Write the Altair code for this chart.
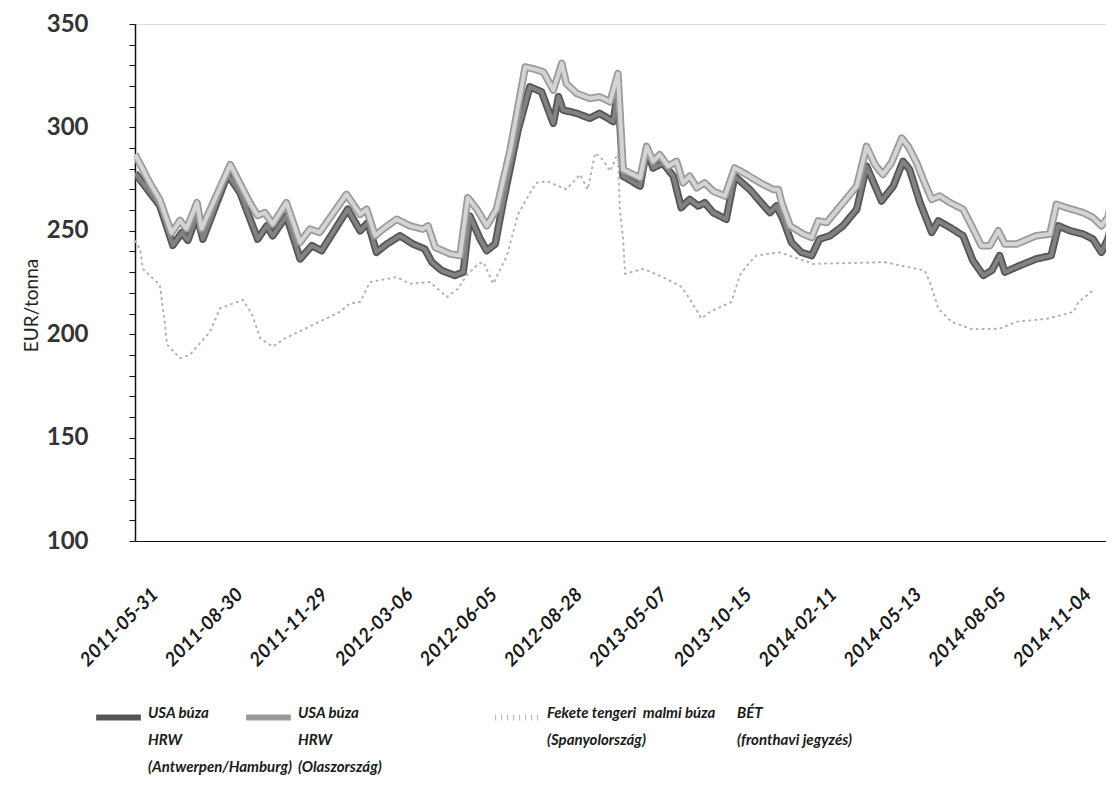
import altair as alt
import pandas as pd

# ---- series names (legend text, lines separated by "|") ----
SERIES = [
    "USA búza|HRW|(Antwerpen/Hamburg)",
    "USA búza|HRW|(Olaszország)",
    "Fekete tengeri \u00a0malmi búza|(Spanyolország)",
    "BÉT|(fronthavi jegyzés)",
]
COLORS = ["#555555", "#9a9a9a", "#b0b0b0", "#ffffff"]
DASHES = [[1, 0], [1, 0], [1, 5], [1, 0]]

# ---- x axis tick labels (category index -> date) ----
TICK_POS = [3, 16, 29, 42, 55, 68, 81, 94, 107, 120, 133, 146]
TICK_LABELS = ["2011-05-31", "2011-08-30", "2011-11-29", "2012-03-06", "2012-06-05",
               "2012-08-28", "2013-05-07", "2013-10-15", "2014-02-11", "2014-05-13",
               "2014-08-05", "2014-11-04"]

# ---- USA búza HRW (Antwerpen/Hamburg) ----
ant_x = [0, 2.3, 3.8, 5.8, 7.2, 8.1, 9.5, 10.4, 14.2, 16.1,
         18.8, 20.2, 21.1, 23.2, 25.3, 27.1, 28.6, 32.6, 34.5, 35.7,
         37.0, 38.6, 40.6, 42.6, 44.4, 45.5, 47.0, 49.0, 50.3, 51.3,
         52.9, 53.9, 55.2, 56.4, 58.7, 60.5, 62.3, 64.1, 64.9, 65.6,
         67.7, 69.7, 71.2, 73.3, 74.0, 74.8, 77.4, 78.4, 79.4, 80.9,
         82.5, 83.7, 85.0, 86.3, 87.3, 88.6, 90.6, 91.9, 94.2, 97.3,
         98.3, 99.3, 100.6, 102.1, 103.7, 104.9, 106.5, 108.5, 110.6, 112.1,
         114.4, 116.2, 117.7, 118.7, 120.3, 122.1, 123.1, 124.9, 126.9, 128.4,
         130.0, 131.3, 132.5, 133.3, 135.6, 138.1, 140.4, 141.5, 143.3, 145.3,
         146.8, 148.1, 149.1, 150]
ant_y = [278, 268.4, 262.2, 243, 249.2, 245.4, 257.4, 246, 277.2, 268.4,
         246, 252.4, 247.6, 257.2, 236.4, 242.8, 240.4, 260.4, 250, 254,
         239.6, 243.6, 247.6, 243.6, 241.2, 234.8, 230.8, 228.4, 230, 257.2,
         246, 240.4, 243.6, 263.6, 298.8, 319.6, 317.2, 302, 314.8, 308.4,
         306.8, 304.4, 306.8, 302.8, 318, 276.4, 271.6, 289.2, 280.4, 282.8,
         276.4, 261.2, 265.2, 262, 263.6, 258.8, 255.6, 276.4, 270, 258.8,
         262, 255.6, 244.4, 239.6, 238, 246, 247.6, 252.4, 260.4, 281.2,
         264.4, 271.6, 283.6, 279.6, 263.6, 249.2, 254.8, 251.6, 247.6, 235.6,
         228.4, 230.8, 238, 230, 233.2, 236.4, 238, 252.4, 250, 248.4,
         246, 239.6, 246, 258]

# ---- USA búza HRW (Olaszország) ----
ita_x = [0, 2.3, 3.8, 5.6, 6.9, 7.9, 9.5, 10.2, 14.6, 17.6,
         18.8, 19.9, 21.1, 23.2, 25.3, 26.8, 28.3, 32.4, 34.5, 35.5,
         36.8, 38.0, 40.1, 42.1, 44.1, 44.9, 46.0, 48.3, 49.8, 51.0,
         52.4, 53.9, 55.4, 57.5, 59.8, 61.0, 62.6, 64.1, 65.4, 66.1,
         67.7, 69.7, 71.2, 72.8, 74.0, 74.8, 75.8, 77.4, 78.4, 79.4,
         80.4, 81.7, 83.0, 84.0, 85.0, 86.1, 87.3, 88.6, 90.4, 91.9,
         93.7, 95.8, 97.8, 98.6, 99.1, 100.4, 102.4, 103.7, 104.7, 106.0,
         108.5, 110.6, 112.1, 113.4, 114.6, 115.9, 117.5, 118.5, 119.8, 121.0,
         122.1, 123.3, 124.9, 126.9, 128.2, 129.7, 131.0, 132.3, 133.3, 135.1,
         138.1, 140.2, 141.2, 142.7, 145.3, 146.8, 148.1, 149.1, 150]
ita_y = [287, 273, 265, 249, 255, 251, 263.6, 251, 282, 263.6,
         257.4, 258.8, 253.2, 263.6, 244.4, 250.8, 249.2, 267.6, 258, 260.4,
         247.6, 250.8, 255.6, 252.4, 250.8, 252.4, 242, 238.8, 238, 266,
         260.4, 252.4, 260.4, 289.2, 329.2, 328.4, 326.8, 318, 331, 321.2,
         316.4, 314, 314.8, 312.4, 326, 279.6, 278, 275.6, 290.8, 283.6,
         286.8, 281.2, 283.6, 273.2, 276.4, 270.8, 273.2, 269.2, 266.8, 280.4,
         277.2, 273.2, 270, 270, 263.6, 252.4, 248.4, 246.8, 254.8, 254,
         263.6, 271.6, 290.8, 282, 277.2, 282.8, 294.8, 290.8, 282.8, 273.2,
         265.2, 266.8, 263.6, 260.4, 252.4, 242.8, 242.8, 250, 243.6, 243.6,
         247.6, 248.4, 262.8, 261.2, 258.8, 256.4, 252.4, 256.4, 270]

# ---- Fekete tengeri malmi búza (Spanyolország) ----
blk_x = [0, 0.8, 1.2, 3.8, 4.6, 4.9, 6.9, 8.4, 11.5, 13.0,
         16.5, 17.9, 19.2, 21.1, 23.0, 31.4, 32.9, 34.5, 36.0, 40.1,
         42.1, 45.2, 47.8, 49.5, 50.8, 52.6, 53.4, 54.9, 57.0, 58.7,
         59.8, 61.5, 63.1, 66.1, 68.2, 69.4, 70.5, 71.7, 72.8, 74.0,
         74.3, 74.8, 75.1, 77.9, 80.9, 83.8, 85.3, 86.8, 88.1, 91.4,
         92.7, 94.2, 95.2, 98.8, 103.9, 114.9, 121.0, 121.8, 122.3, 123.1,
         125.1, 128.2, 132.3, 135.1, 140.0, 143.8, 144.6, 147.1]
blk_y = [245, 241, 231.6, 223.8, 204.6, 195, 188.4, 190, 201.2, 212.4,
         216.6, 210, 198, 194, 198, 210.8, 214.8, 215.6, 225.2, 227.6,
         224.4, 225.2, 218, 222, 228.4, 234, 234.8, 224.4, 238, 258,
         264.4, 273.2, 274, 270, 277.2, 270, 287.6, 284.4, 278.8, 287.6,
         260.4, 246, 229.2, 231.6, 227.6, 222.8, 215.6, 207.6, 210.8, 215.6,
         228.6, 234.8, 238, 239.6, 234, 234.8, 230.8, 225.2, 220.4, 212.4,
         206, 202.5, 202.5, 206, 207.6, 210.8, 215.6, 222]

rows = []
for name, xs, ys in [(SERIES[0], ant_x, ant_y), (SERIES[1], ita_x, ita_y), (SERIES[2], blk_x, blk_y)]:
    for xv, yv in zip(xs, ys):
        rows.append({"series": name, "week": xv, "price": yv})
df = pd.DataFrame(rows)

FONT = "Lato"
x_label_expr = "[" + ",".join("'%s'" % t for t in TICK_LABELS) + "][indexof([" + \
    ",".join(str(p) for p in TICK_POS) + "], datum.value)]"

x_enc = alt.X("week:Q",
              scale=alt.Scale(domain=[0, 148.8], nice=False, zero=False),
              axis=alt.Axis(values=TICK_POS, labelExpr=x_label_expr, title=None,
                            labelAngle=315, labelAlign="right", labelBaseline="middle",
                            labelPadding=50, ticks=False, grid=False,
                            domainColor="#111111", domainWidth=1.2,
                            labelFont=FONT, labelFontSize=19, labelFontWeight="bold",
                            labelFontStyle="italic", labelColor="#1a1a1a",
                            labelOverlap=False))
y_enc = alt.Y("price:Q",
              scale=alt.Scale(domain=[100, 350], nice=False, zero=False),
              axis=alt.Axis(values=list(range(100, 351, 10)),
                            labelExpr="datum.value % 50 == 0 ? datum.label : ''",
                            title="EUR/tonna", titleFont=FONT, titleFontSize=19,
                            titleFontWeight="normal", titleColor="#222222",
                            titleX=-104, titleY=281, titleBaseline="middle",
                            grid=False, domainColor="#111111", domainWidth=1.5,
                            tickColor="#111111", tickSize=6, tickWidth=1,
                            labelFont=FONT, labelFontSize=24, labelFontWeight="bold",
                            labelColor="#333333", labelPadding=41))

# one legend per series, each placed where the reference puts it
LEGEND_X = [-42, 108, 357, 547]


def legend_for(i):
    return alt.Legend(title=None, orient="none", legendX=LEGEND_X[i], legendY=668,
                      symbolType="stroke", symbolSize=2000, symbolStrokeWidth=6,
                      symbolOpacity=0 if i == 3 else 1,
                      labelFont=FONT, labelFontSize=15, labelFontStyle="italic",
                      labelFontWeight="bold", labelColor="#1a1a1a", labelLimit=600,
                      labelBaseline="alphabetic", labelOffset=4,
                      labelExpr="split(datum.label, '|')")


def color_for(i):
    return alt.Color("series:N", scale=alt.Scale(domain=[SERIES[i]], range=[COLORS[i]]),
                     legend=legend_for(i))


def dash_for(i):
    return alt.StrokeDash("series:N", scale=alt.Scale(domain=[SERIES[i]], range=[DASHES[i]]),
                          legend=legend_for(i))


base = alt.Chart(df)


def only(i):
    return base.transform_filter(alt.datum.series == SERIES[i])


l1 = only(0).mark_line(strokeWidth=7.5, clip=True, strokeJoin="round").encode(
    x=x_enc, y=y_enc, color=color_for(0), strokeDash=dash_for(0))
l2 = only(0).mark_line(strokeWidth=4, clip=True, color="#828282", strokeJoin="round").encode(
    x=x_enc, y=y_enc)
l3 = only(1).mark_line(strokeWidth=7.5, clip=True, strokeJoin="round").encode(
    x=x_enc, y=y_enc, color=color_for(1), strokeDash=dash_for(1))
l4 = only(1).mark_line(strokeWidth=4, clip=True, color="#d4d4d4", strokeJoin="round").encode(
    x=x_enc, y=y_enc)
l5 = only(2).mark_line(strokeWidth=2, clip=True, strokeCap="round").encode(
    x=x_enc, y=y_enc, color=color_for(2), strokeDash=dash_for(2))
l6 = only(3).mark_line(strokeWidth=2, clip=True).encode(
    x=x_enc, y=y_enc, color=color_for(3), strokeDash=dash_for(3))

chart = alt.layer(l1, l2, l3, l4, l5, l6).resolve_scale(
    color="independent", strokeDash="independent"
).properties(
    width=971, height=517,
    autosize=alt.AutoSizeParams(type="none"),
    padding={"left": 127, "top": 16, "right": 0, "bottom": 240},
    background="white",
).configure_view(stroke=None).configure(
    style={"guide-label": {"lineHeight": 27}}
)

chart.save("out.html", embed_options={"renderer": "svg", "actions": False})
